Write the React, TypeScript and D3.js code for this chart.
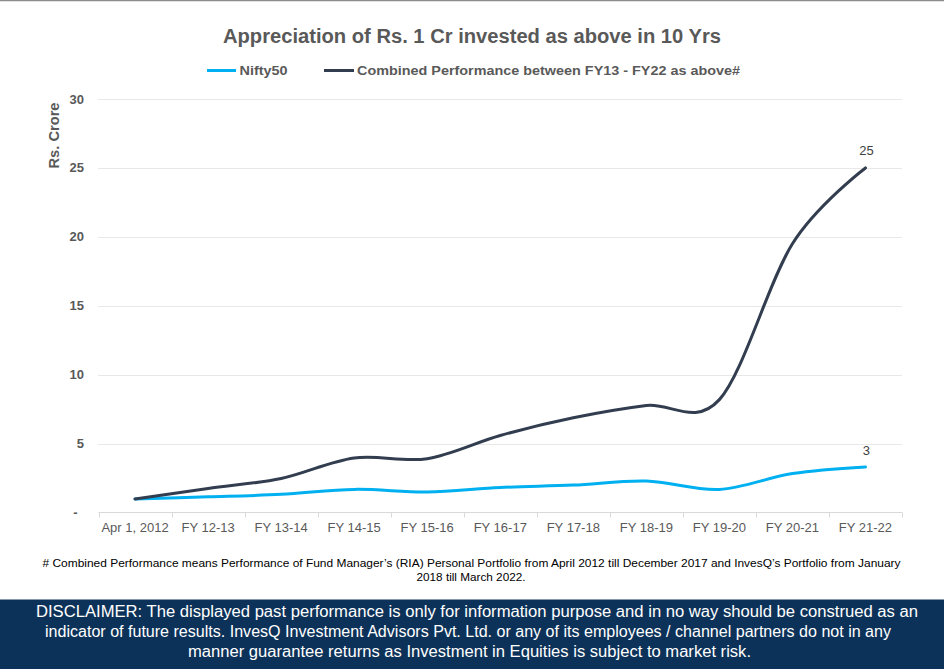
import React from "react";
import * as d3 from "d3";

const categories = [
  "Apr 1, 2012",
  "FY 12-13",
  "FY 13-14",
  "FY 14-15",
  "FY 15-16",
  "FY 16-17",
  "FY 17-18",
  "FY 18-19",
  "FY 19-20",
  "FY 20-21",
  "FY 21-22",
];
const nifty50 = [1, 1.15, 1.33, 1.69, 1.51, 1.83, 2.0, 2.29, 1.69, 2.84, 3.32];
const combined = [1, 1.76, 2.48, 3.97, 3.92, 5.6, 6.88, 7.77, 8.2, 19.5, 25];
const yTicks = [0, 5, 10, 15, 20, 25, 30];
const seriesNames = ["Nifty50", "Combined Performance between FY13 - FY22 as above#"];
const endLabels = ["3", "25"];

const W = 944;
const H = 669;
const NARROW = "'Liberation Sans Narrow', 'Arial Narrow', 'Liberation Sans', Arial, sans-serif";
const ARIAL = "'Liberation Sans', Arial, sans-serif";

export default function App() {
  const x = d3.scaleBand<string>().domain(categories).range([98.5, 902]);
  const y = d3.scaleLinear().domain([0, 30]).range([512.7, 99]);
  const cx = (c: string) => (x(c) ?? 0) + x.bandwidth() / 2;
  const line = d3
    .line<number>()
    .x((_, i) => cx(categories[i]))
    .y((v) => y(v))
    .curve(d3.curveCardinal.tension(0));

  const boundaries = categories.map((c) => x(c) ?? 0).concat([902]);
  const last = categories[categories.length - 1];

  return (
    <div style={{ position: "absolute", left: 0, top: 0, width: W, height: H }}>
      <svg width={W} height={H} style={{ display: "block", background: "#fff" }}>
        <rect x={0} y={0} width={W} height={H} fill="#fff" />
        <line x1={0} x2={W} y1={0.5} y2={0.5} stroke="#8c8c8c" strokeWidth={1.5} />

        <text
          x={472}
          y={43}
          textAnchor="middle"
          fontFamily={NARROW}
          fontWeight="bold"
          fontSize={20}
          fill="#595959"
          textLength={498}
          lengthAdjust="spacingAndGlyphs"
        >
          Appreciation of Rs. 1 Cr invested as above in 10 Yrs
        </text>

        {/* Legend */}
        <line x1={207} x2={236} y1={70.5} y2={70.5} stroke="#00B0F0" strokeWidth={3} />
        <text x={239.5} y={75} fontFamily={NARROW} fontWeight="bold" fontSize={13.5} fill="#595959" textLength={48} lengthAdjust="spacingAndGlyphs">
          {seriesNames[0]}
        </text>
        <line x1={324} x2={354} y1={70.5} y2={70.5} stroke="#323E4F" strokeWidth={3} />
        <text x={357} y={75} fontFamily={NARROW} fontWeight="bold" fontSize={13.5} fill="#595959" textLength={383} lengthAdjust="spacingAndGlyphs">
          {seriesNames[1]}
        </text>

        {/* Gridlines */}
        {yTicks.filter((t) => t > 0).map((t) => (
          <line
            key={t}
            x1={98.5}
            x2={902}
            y1={Math.round(y(t)) + 0.5}
            y2={Math.round(y(t)) + 0.5}
            stroke="#D0D0D0"
            strokeWidth={1}
            strokeDasharray="1,1"
          />
        ))}

        {/* Y axis labels */}
        {yTicks.map((t) => (
          <text
            key={t}
            x={t === 0 ? 77.5 : 84}
            y={y(t) + 4.5}
            textAnchor="end"
            fontFamily={NARROW}
            fontWeight="bold"
            fontSize={13}
            fill="#595959"
          >
            {t === 0 ? "-" : t}
          </text>
        ))}
        <text
          transform={`translate(58.5,135.5) rotate(-90)`}
          textAnchor="middle"
          fontFamily={ARIAL}
          fontWeight="bold"
          fontSize={14}
          fill="#595959"
          textLength={66}
          lengthAdjust="spacingAndGlyphs"
        >
          Rs. Crore
        </text>

        {/* X axis */}
        <line x1={98.5} x2={902} y1={512.5} y2={512.5} stroke="#D9D9D9" strokeWidth={1} />
        {boundaries.map((b, i) => (
          <line key={i} x1={Math.round(b) + 0.5} x2={Math.round(b) + 0.5} y1={512.5} y2={517.5} stroke="#D9D9D9" strokeWidth={1} />
        ))}
        {categories.map((c) => (
          <text
            key={c}
            x={cx(c)}
            y={532}
            textAnchor="middle"
            fontFamily={NARROW}
            fontSize={13}
            fill="#595959"
          >
            {c}
          </text>
        ))}

        {/* Lines */}
        <path d={line(nifty50) ?? ""} fill="none" stroke="#00B0F0" strokeWidth={3} strokeLinecap="round" />
        <path d={line(combined) ?? ""} fill="none" stroke="#323E4F" strokeWidth={3} strokeLinecap="round" />

        {/* End labels */}
        <text x={cx(last) + 1} y={y(nifty50[nifty50.length - 1]) - 12} textAnchor="middle" fontFamily={ARIAL} fontSize={13} fill="#404040">
          {endLabels[0]}
        </text>
        <text x={cx(last) + 1} y={y(combined[combined.length - 1]) - 13} textAnchor="middle" fontFamily={ARIAL} fontSize={13} fill="#404040">
          {endLabels[1]}
        </text>

        {/* Footnote */}
        <text x={471.5} y={567} textAnchor="middle" fontFamily={ARIAL} fontSize={11} fill="#000" textLength={858} lengthAdjust="spacingAndGlyphs">
          # Combined Performance means Performance of Fund Manager’s (RIA) Personal Portfolio from April 2012 till December 2017 and InvesQ’s Portfolio from January
        </text>
        <text x={471} y={581} textAnchor="middle" fontFamily={ARIAL} fontSize={11} fill="#000" textLength={109} lengthAdjust="spacingAndGlyphs">
          2018 till March 2022.
        </text>

        {/* Disclaimer */}
        <rect x={0} y={599.5} width={W} height={H - 599.5} fill="#0D3259" />
        <text x={477} y={617} textAnchor="middle" fontFamily={NARROW} fontSize={16} fill="#fff" textLength={882} lengthAdjust="spacingAndGlyphs">
          DISCLAIMER: The displayed past performance is only for information purpose and in no way should be construed as an
        </text>
        <text x={468} y={637} textAnchor="middle" fontFamily={NARROW} fontSize={16} fill="#fff" textLength={846} lengthAdjust="spacingAndGlyphs">
          indicator of future results. InvesQ Investment Advisors Pvt. Ltd. or any of its employees / channel partners do not in any
        </text>
        <text x={469.5} y={657} textAnchor="middle" fontFamily={NARROW} fontSize={16} fill="#fff" textLength={563} lengthAdjust="spacingAndGlyphs">
          manner guarantee returns as Investment in Equities is subject to market risk.
        </text>
      </svg>
    </div>
  );
}
